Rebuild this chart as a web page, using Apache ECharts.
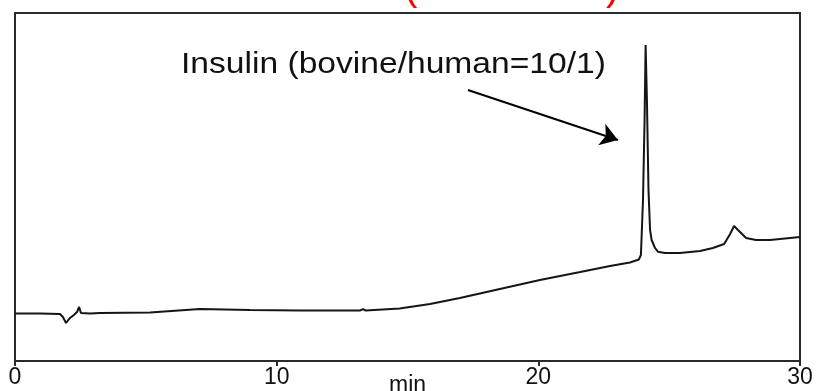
<!DOCTYPE html>
<html>
<head>
<meta charset="utf-8">
<script src="https://cdn.jsdelivr.net/npm/echarts@6/dist/echarts.min.js"></script>
<style>
  html, body { margin: 0; padding: 0; background: #fff; }
  #chart { width: 818px; height: 391px; }
</style>
</head>
<body>
<div id="chart"></div>
<script>
// retention time (min) and detector signal (arbitrary units)
var times = [
  0, 0.96, 1.72, 1.83, 1.95, 2.10, 2.25, 2.37, 2.45, 2.52, 2.87,
  3.25, 5.16, 7.07, 8.98, 10.9, 13.18, 13.3, 13.4, 14.7, 15.86, 17.0,
  18.53, 20.06, 21.6, 22.74, 23.5, 23.84, 23.92, 24.0, 24.06, 24.1,
  24.15, 24.21, 24.27, 24.33, 24.38, 24.46, 24.57, 24.84, 25.41, 26.18,
  26.67, 27.1, 27.33, 27.48, 27.63, 27.94, 28.32, 28.85, 29.43, 30
];
var signal = [
  13.65, 13.65, 13.51, 12.64, 10.92, 12.36, 13.22, 14.08, 15.52, 13.79, 13.65,
  13.79, 13.94, 14.94, 14.66, 14.51, 14.51, 14.9, 14.51, 15.09, 16.38, 18.10,
  20.69, 23.28, 25.57, 27.30, 28.30, 29.17, 30.46, 46.26, 69.25, 90.80,
  75.0, 49.14, 37.64, 34.77, 34.48, 32.47, 31.41, 31.03, 31.03, 31.61,
  32.47, 33.62, 36.49, 38.79, 37.64, 35.34, 34.77, 34.77, 35.20, 35.63
];
var xTicks = [0, 10, 20, 30];
var peakLabel = 'Insulin (bovine/human=10/1)';
// arrow from label towards the main peak: [start, end] in (min, signal)
var arrowFrom = [17.31, 77.87];
var arrowTo = [23.04, 63.51];

var chart = echarts.init(document.getElementById('chart'));

var pts = [];
for (var i = 0; i < times.length; i++) {
  pts.push([times[i], signal[i]]);
}

var option = {
  animation: false,
  backgroundColor: '#fff',
  textStyle: { fontFamily: 'Liberation Sans, Arial, sans-serif' },
  grid: {
    left: 15, right: 18, top: 13, bottom: 30,
    containLabel: false,
    outerBoundsMode: 'none',
    show: true,
    borderColor: '#2a2a2a',
    borderWidth: 2
  },
  xAxis: {
    type: 'value',
    min: 0, max: 30, interval: 10,
    name: 'min',
    nameLocation: 'middle',
    nameGap: 13,
    nameMoveOverlap: false,
    nameTextStyle: { fontSize: 23, color: '#111' },
    axisLine: { lineStyle: { color: '#2a2a2a', width: 2 } },
    axisTick: { show: true, length: 5, lineStyle: { color: '#2a2a2a', width: 2 } },
    axisLabel: {
      fontSize: 23, color: '#111', margin: 5,
      formatter: function (v) { return xTicks.indexOf(v) >= 0 ? String(v) : ''; }
    },
    splitLine: { show: false }
  },
  yAxis: {
    type: 'value',
    min: 0, max: 100,
    axisLine: { show: false },
    axisTick: { show: false },
    axisLabel: { show: false },
    splitLine: { show: false }
  },
  series: [{
    type: 'line',
    data: pts,
    symbol: 'none',
    smooth: false,
    lineStyle: { color: '#151515', width: 2 },
    markLine: {
      silent: true,
      symbol: ['none', 'arrow'],
      symbolSize: 17,
      label: { show: false },
      lineStyle: { color: '#000', width: 2, type: 'solid' },
      data: [[{ coord: arrowFrom }, { coord: arrowTo }]]
    }
  }],
  graphic: [
    {
      type: 'text',
      left: 181, top: 50,
      scaleX: 1.12,
      style: { text: peakLabel, fontSize: 30, fill: '#111', fontFamily: 'Liberation Sans, Arial, sans-serif' }
    },
    {
      type: 'text',
      x: 404, y: 9,
      style: { text: '(', fontSize: 40, fill: '#ff0000', verticalAlign: 'bottom', fontFamily: 'Liberation Sans, Arial, sans-serif' }
    },
    {
      type: 'text',
      x: 606, y: 9,
      style: { text: ')', fontSize: 40, fill: '#ff0000', verticalAlign: 'bottom', fontFamily: 'Liberation Sans, Arial, sans-serif' }
    }
  ]
};

chart.setOption(option);
</script>
</body>
</html>
